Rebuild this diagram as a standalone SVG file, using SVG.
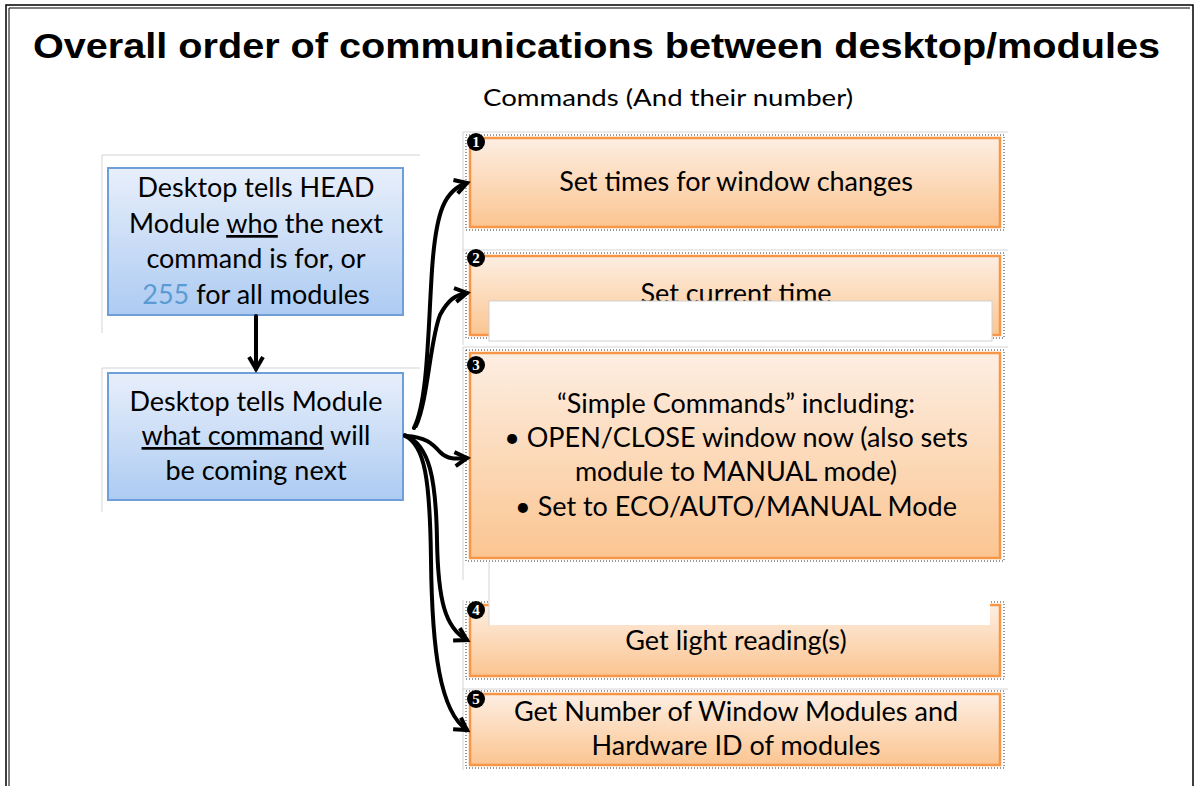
<svg xmlns="http://www.w3.org/2000/svg" width="1197" height="786" viewBox="0 0 1197 786">
<style>
.title{font-family:"Liberation Sans",Arial,sans-serif;font-weight:bold;font-size:35px;fill:#000}
.t{font-family:Lato,"Liberation Sans",sans-serif;font-size:27px;fill:#000;text-anchor:middle}
.hdr{font-family:Lato,"Liberation Sans",sans-serif;font-size:24px;fill:#000}
.blue{stroke:#6f9fd8;stroke-width:2;fill:url(#gb)}
.orange{stroke:#f79646;stroke-width:2.5;fill:url(#go)}
.dot{fill:none;stroke:#333;stroke-width:1;stroke-dasharray:1 2}
.gl{stroke:#d4d4d4;stroke-width:1;fill:none}
.cover{fill:#fff;stroke:#d0d0d0;stroke-width:1}
.badge{fill:#000}
.bn{font-family:"Liberation Serif",serif;font-weight:bold;font-size:15px;fill:#fff;text-anchor:middle}
.conn path{fill:none;stroke:#000;stroke-width:4;stroke-linecap:round}
.u{text-decoration:underline}
</style>
<defs>
<linearGradient id="gb" x1="0" y1="0" x2="0" y2="1">
<stop offset="0" stop-color="#e8effb"/>
<stop offset="1" stop-color="#adcbf2"/>
</linearGradient>
<linearGradient id="go" x1="0" y1="0" x2="0" y2="1">
<stop offset="0" stop-color="#fdeee2"/>
<stop offset="1" stop-color="#fbc591"/>
</linearGradient>
<marker id="ah" markerUnits="userSpaceOnUse" markerWidth="20" markerHeight="20" viewBox="-16 -10 20 20" refX="0" refY="0" orient="auto">
<path d="M-12,-7 L0,0 L-12,7" fill="none" stroke="#000" stroke-width="4" stroke-linejoin="miter"/>
</marker>
</defs>
<rect width="1197" height="786" fill="#fff"/>
<!-- frame -->
<path d="M6,790 V5 H1193 V790" fill="none" stroke="#000" stroke-width="1.5"/>
<path d="M9,790 V8 H1190" fill="none" stroke="#000" stroke-width="1"/>
<text class="title" x="33" y="58" textLength="1127" lengthAdjust="spacingAndGlyphs">Overall order of  communications between desktop/modules</text>
<text class="hdr" x="483" y="106" textLength="370" lengthAdjust="spacingAndGlyphs">Commands (And their number)</text>

<!-- background guide lines -->
<g id="guides">
<path class="gl" d="M102,333 V155 H420"/>
<path class="gl" d="M102,512 V368 H420"/>
<path class="gl" d="M463,250 V132 H1008"/>
<path class="gl" d="M463,345 V250 H1008"/>
<path class="gl" d="M463,580 V347 H1008"/>
<path class="gl" d="M463,690 V600"/>
<path class="gl" d="M463,770 V689 H1008"/>
</g>

<g id="n1">
<rect class="blue" x="108" y="168" width="295" height="147"/>
<text class="t" x="256" y="197">Desktop tells HEAD</text>
<text class="t" x="256" y="233">Module <tspan class="u">who</tspan> the next</text>
<text class="t" x="256" y="268">command is for, or</text>
<text class="t" x="256" y="304"><tspan fill="#5b9bd5">255</tspan> for all modules</text>
</g>

<g id="n2">
<rect class="blue" x="108" y="373" width="295" height="127"/>
<text class="t" x="256" y="411">Desktop tells Module</text>
<text class="t" x="256" y="445"><tspan class="u">what command</tspan> will</text>
<text class="t" x="256" y="480">be coming next</text>
</g>

<g id="c1">
<rect class="dot" x="466" y="135" width="538" height="95"/>
<rect class="orange" x="470" y="138" width="530" height="89"/>
<text class="t" x="736" y="191">Set times for window changes</text>
<circle class="badge" cx="476" cy="142" r="9"/>
<text class="bn" x="476" y="147">1</text>
</g>

<g id="c2">
<rect class="dot" x="466" y="253" width="538" height="85"/>
<rect class="orange" x="470" y="256" width="530" height="79"/>
<text class="t" x="736" y="303">Set current time</text>
<rect class="cover" x="489" y="301" width="503" height="40"/>
<circle class="badge" cx="476" cy="258" r="9"/>
<text class="bn" x="476" y="263">2</text>
</g>

<g id="c3">
<rect class="dot" x="466" y="350" width="538" height="211"/>
<rect class="orange" x="470" y="353" width="530" height="205"/>
<text class="t" x="736" y="413">“Simple Commands” including:</text>
<text class="t" x="736" y="447">• OPEN/CLOSE  window now (also sets</text>
<text class="t" x="736" y="481">module to MANUAL mode)</text>
<text class="t" x="736" y="516">• Set to ECO/AUTO/MANUAL Mode</text>
<circle class="badge" cx="476" cy="365" r="9"/>
<text class="bn" x="476" y="370">3</text>
</g>

<g id="c4">
<rect class="dot" x="466" y="602" width="538" height="77"/>
<rect class="orange" x="470" y="605" width="530" height="71"/>
<rect x="489" y="562" width="501" height="63" fill="#fff"/>
<path class="gl" d="M489,625 V562"/>
<text class="t" x="736" y="650">Get light reading(s)</text>
<circle class="badge" cx="476" cy="610" r="9"/>
<text class="bn" x="476" y="615">4</text>
</g>

<g id="c5">
<rect class="dot" x="466" y="691" width="538" height="77"/>
<rect class="orange" x="470" y="694" width="530" height="71"/>
<text class="t" x="736" y="721">Get Number of Window Modules and</text>
<text class="t" x="736" y="755">Hardware ID of modules</text>
<circle class="badge" cx="476" cy="699" r="9"/>
<text class="bn" x="476" y="704">5</text>
</g>

<g id="connectors" class="conn">
<path d="M256,316 V369" marker-end="url(#ah)"/>
<path d="M414,428 C428,400 428,330 432,270 C436,210 445,190 467,183" marker-end="url(#ah)"/>
<path d="M416,426 C428,400 430,340 440,315 C448,300 455,295 467,293" marker-end="url(#ah)"/>
<path d="M406,436 C425,437 432,443 440,452 C448,460 456,459 467,458" marker-end="url(#ah)"/>
<path d="M405,435 C430,445 436,480 437,540 C438,600 445,628 467,640" marker-end="url(#ah)"/>
<path d="M405,436 C425,445 430,480 431,560 C432,650 440,712 467,730" marker-end="url(#ah)"/>
</g>
</svg>
